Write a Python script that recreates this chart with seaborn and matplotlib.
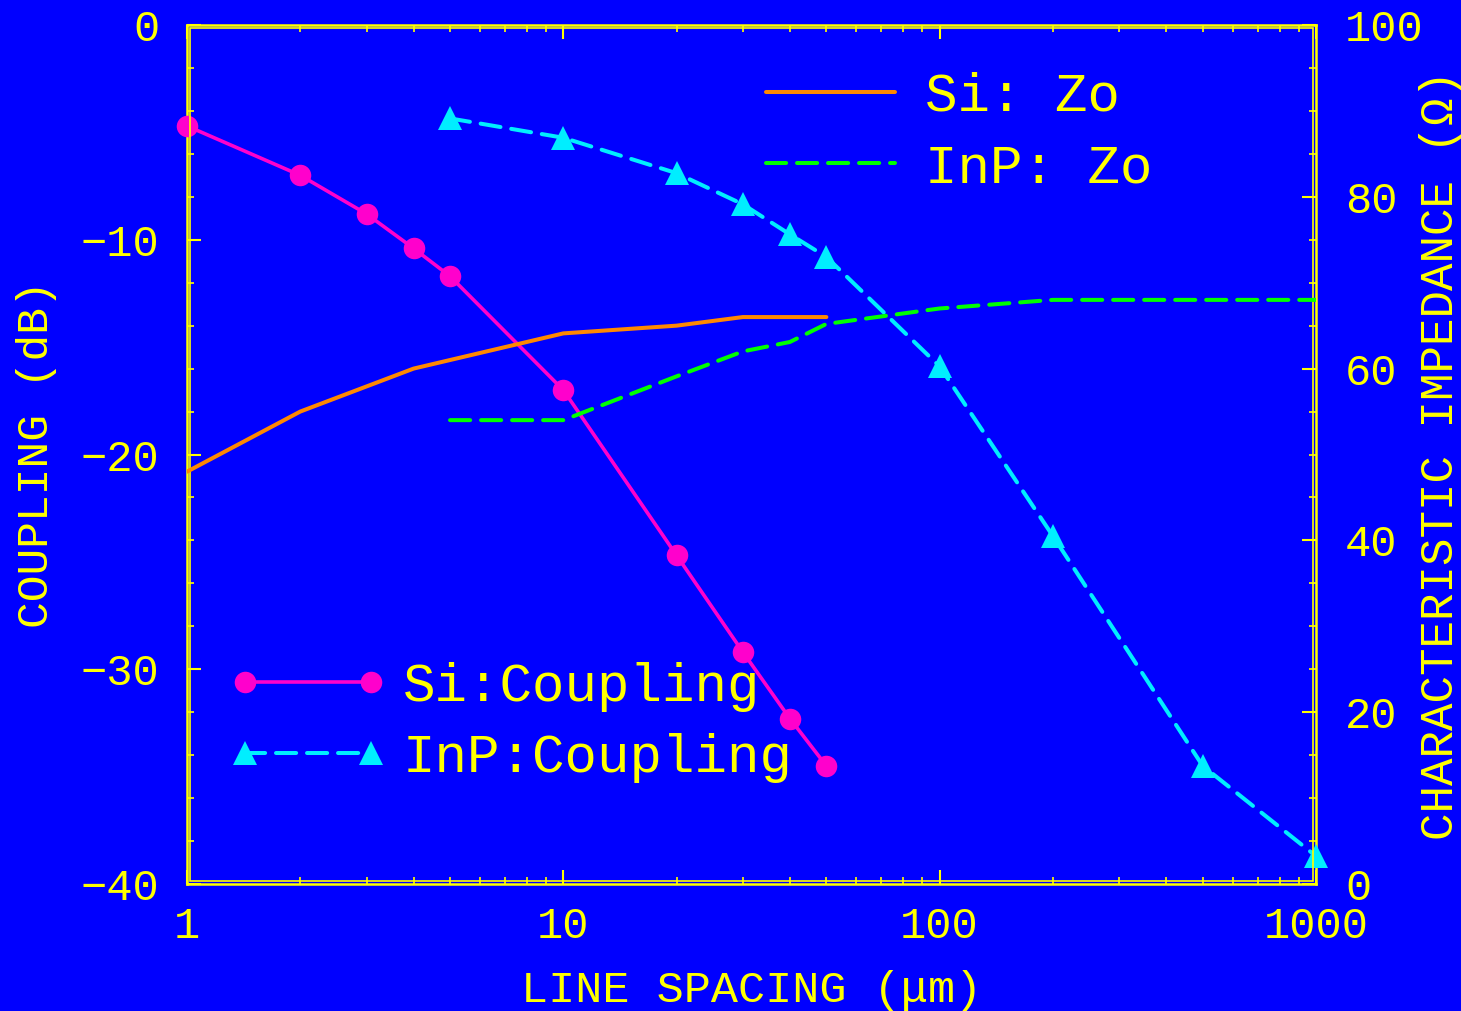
import matplotlib
matplotlib.use("Agg")
import matplotlib.pyplot as plt
from matplotlib.ticker import MultipleLocator, LogLocator, NullFormatter
from matplotlib.lines import Line2D
from matplotlib.patches import Rectangle
import pandas as pd
import seaborn as sns

# Coupling between lines (dB) versus line spacing (um)
spacing_si = [1, 2, 3, 4, 5, 10, 20, 30, 40, 50]
coupling_si = [-4.7, -7.0, -8.8, -10.4, -11.7, -17.0, -24.7, -29.2, -32.3, -34.5]

spacing_inp = [5, 10, 20, 30, 40, 50, 100, 200, 500, 1000]
coupling_inp = [-4.35, -5.25, -6.9, -8.35, -9.75, -10.8, -15.9, -23.8, -34.5, -38.7]

# Characteristic impedance (ohm) versus line spacing (um)
spacing_si_zo = [1, 2, 4, 10, 20, 30, 50]
zo_si = [48.0, 55.0, 60.0, 64.1, 65.0, 66.0, 66.0]

spacing_inp_zo = [5, 10, 20, 30, 40, 50, 100, 200, 1000]
zo_inp = [54.0, 54.0, 59.1, 62.0, 63.1, 65.2, 67.0, 68.0, 68.0]

x_ticks = [1, 10, 100, 1000]
x_tick_labels = ["1", "10", "100", "1000"]
left_ticks = [-40, -30, -20, -10, 0]
right_ticks = [0, 20, 40, 60, 80, 100]

legend_coupling = ["Si:Coupling", "InP:Coupling"]
legend_zo = ["Si: Zo", "InP: Zo"]

BLUE = "#0000FF"
YELLOW = "#FFFF00"
MAGENTA = "#FF00CC"
CYAN = "#00EEFF"
ORANGE = "#FF8800"
GREEN = "#00FF00"

sns.set_theme(style="ticks")
plt.rcParams.update({
    "figure.facecolor": BLUE,
    "axes.facecolor": BLUE,
    "savefig.facecolor": BLUE,
    "axes.edgecolor": YELLOW,
    "axes.labelcolor": YELLOW,
    "text.color": YELLOW,
    "xtick.color": YELLOW,
    "ytick.color": YELLOW,
})
plt.rcParams["font.family"] = ["Liberation Mono", "DejaVu Sans"]

df_si = pd.DataFrame({"spacing": spacing_si, "coupling": coupling_si})
df_inp = pd.DataFrame({"spacing": spacing_inp, "coupling": coupling_inp})
df_si_zo = pd.DataFrame({"spacing": spacing_si_zo, "zo": zo_si})
df_inp_zo = pd.DataFrame({"spacing": spacing_inp_zo, "zo": zo_inp})

fig = plt.figure(figsize=(14.61, 10.11), dpi=100)
ax = fig.add_axes([0.12799, 0.12562, 0.77276, 0.84965])
ax.set_xscale("log")
ax2 = ax.twinx()
ax2.patch.set_visible(False)

LW_SI = 2.6
LW = 2.9
dash = (0, (5.0, 2.7))
line_kw = dict(errorbar=None, legend=False, sort=True)

sns.lineplot(data=df_si, x="spacing", y="coupling", ax=ax, color=MAGENTA,
             lw=LW_SI, marker="o", markersize=15.5, markeredgewidth=0,
             markeredgecolor=MAGENTA, clip_on=False, zorder=3, **line_kw)
sns.lineplot(data=df_inp, x="spacing", y="coupling", ax=ax, color=CYAN,
             lw=LW, linestyle=dash, dash_capstyle="round", marker="^",
             markersize=17, markeredgewidth=0, markeredgecolor=CYAN,
             clip_on=False, zorder=3, **line_kw)
sns.lineplot(data=df_si_zo, x="spacing", y="zo", ax=ax2, color=ORANGE,
             lw=LW, **line_kw)
sns.lineplot(data=df_inp_zo, x="spacing", y="zo", ax=ax2, color=GREEN,
             lw=LW, linestyle=dash, dash_capstyle="round", **line_kw)

# Axis ranges and ticks
ax.set_xlim(1, 1000)
ax.set_ylim(-40, 0)
ax2.set_ylim(0, 100)
ax.set_xticks(x_ticks, labels=x_tick_labels)
ax.xaxis.set_minor_locator(LogLocator(base=10, subs=range(2, 10)))
ax.xaxis.set_minor_formatter(NullFormatter())
ax.set_yticks(left_ticks)
ax.yaxis.set_minor_locator(MultipleLocator(2))
ax2.set_yticks(right_ticks)
ax2.yaxis.set_minor_locator(MultipleLocator(5))

for a in (ax, ax2):
    a.tick_params(which="major", direction="in", length=10, width=1.5,
                  colors=YELLOW, labelsize=31.5)
    a.tick_params(which="minor", direction="in", length=5, width=1.2,
                  colors=YELLOW)
ax.tick_params(axis="x", which="both", top=True, bottom=True, pad=16)
ax.tick_params(axis="y", which="both", left=True, right=False, pad=20)
ax2.tick_params(axis="y", which="both", right=True, left=False, pad=21)

ax.set_xlabel("LINE SPACING (μm)", fontsize=32.5)
ax.xaxis.set_label_coords(0.5, -0.1)
ax.set_ylabel("COUPLING (dB)", fontsize=32)
ax.yaxis.set_label_coords(-0.115, 0.5)
ax2.set_ylabel("CHARACTERISTIC IMPEDANCE (Ω)", fontsize=33)
ax2.yaxis.set_label_coords(1.091, 0.5)

# Double-line frame
for sp in ax.spines.values():
    sp.set_color(YELLOW)
    sp.set_linewidth(1.8)
for sp in ax2.spines.values():
    sp.set_visible(False)
ax.add_patch(Rectangle((0.0027, 0.0035), 1 - 0.0054, 1 - 0.007,
                       transform=ax.transAxes, fill=False, ec=YELLOW,
                       lw=1.2, clip_on=False, zorder=4))

# Legends
h_coupling = [
    Line2D([], [], color=MAGENTA, lw=LW_SI, marker="o", markersize=15.5,
           markeredgewidth=0),
    Line2D([], [], color=CYAN, lw=LW, linestyle=dash, dash_capstyle="round",
           marker="^", markersize=17, markeredgewidth=0),
]
h_zo = [
    Line2D([], [], color=ORANGE, lw=LW),
    Line2D([], [], color=GREEN, lw=LW, linestyle=dash, dash_capstyle="round"),
]
leg_common = dict(loc="upper left", bbox_transform=fig.transFigure,
                  frameon=False, borderpad=0, borderaxespad=0, fontsize=39,
                  labelcolor=YELLOW, labelspacing=0.39)
leg1 = ax2.legend(h_coupling, legend_coupling, bbox_to_anchor=(0.1565, 0.3452),
                  numpoints=2, handlelength=2.92, handletextpad=0.3,
                  **leg_common)
ax2.add_artist(leg1)
ax2.legend(h_zo, legend_zo, bbox_to_anchor=(0.5243, 0.9288), numpoints=1,
           handlelength=2.38, handletextpad=0.55, **leg_common)

fig.savefig("out.png", dpi=100)
